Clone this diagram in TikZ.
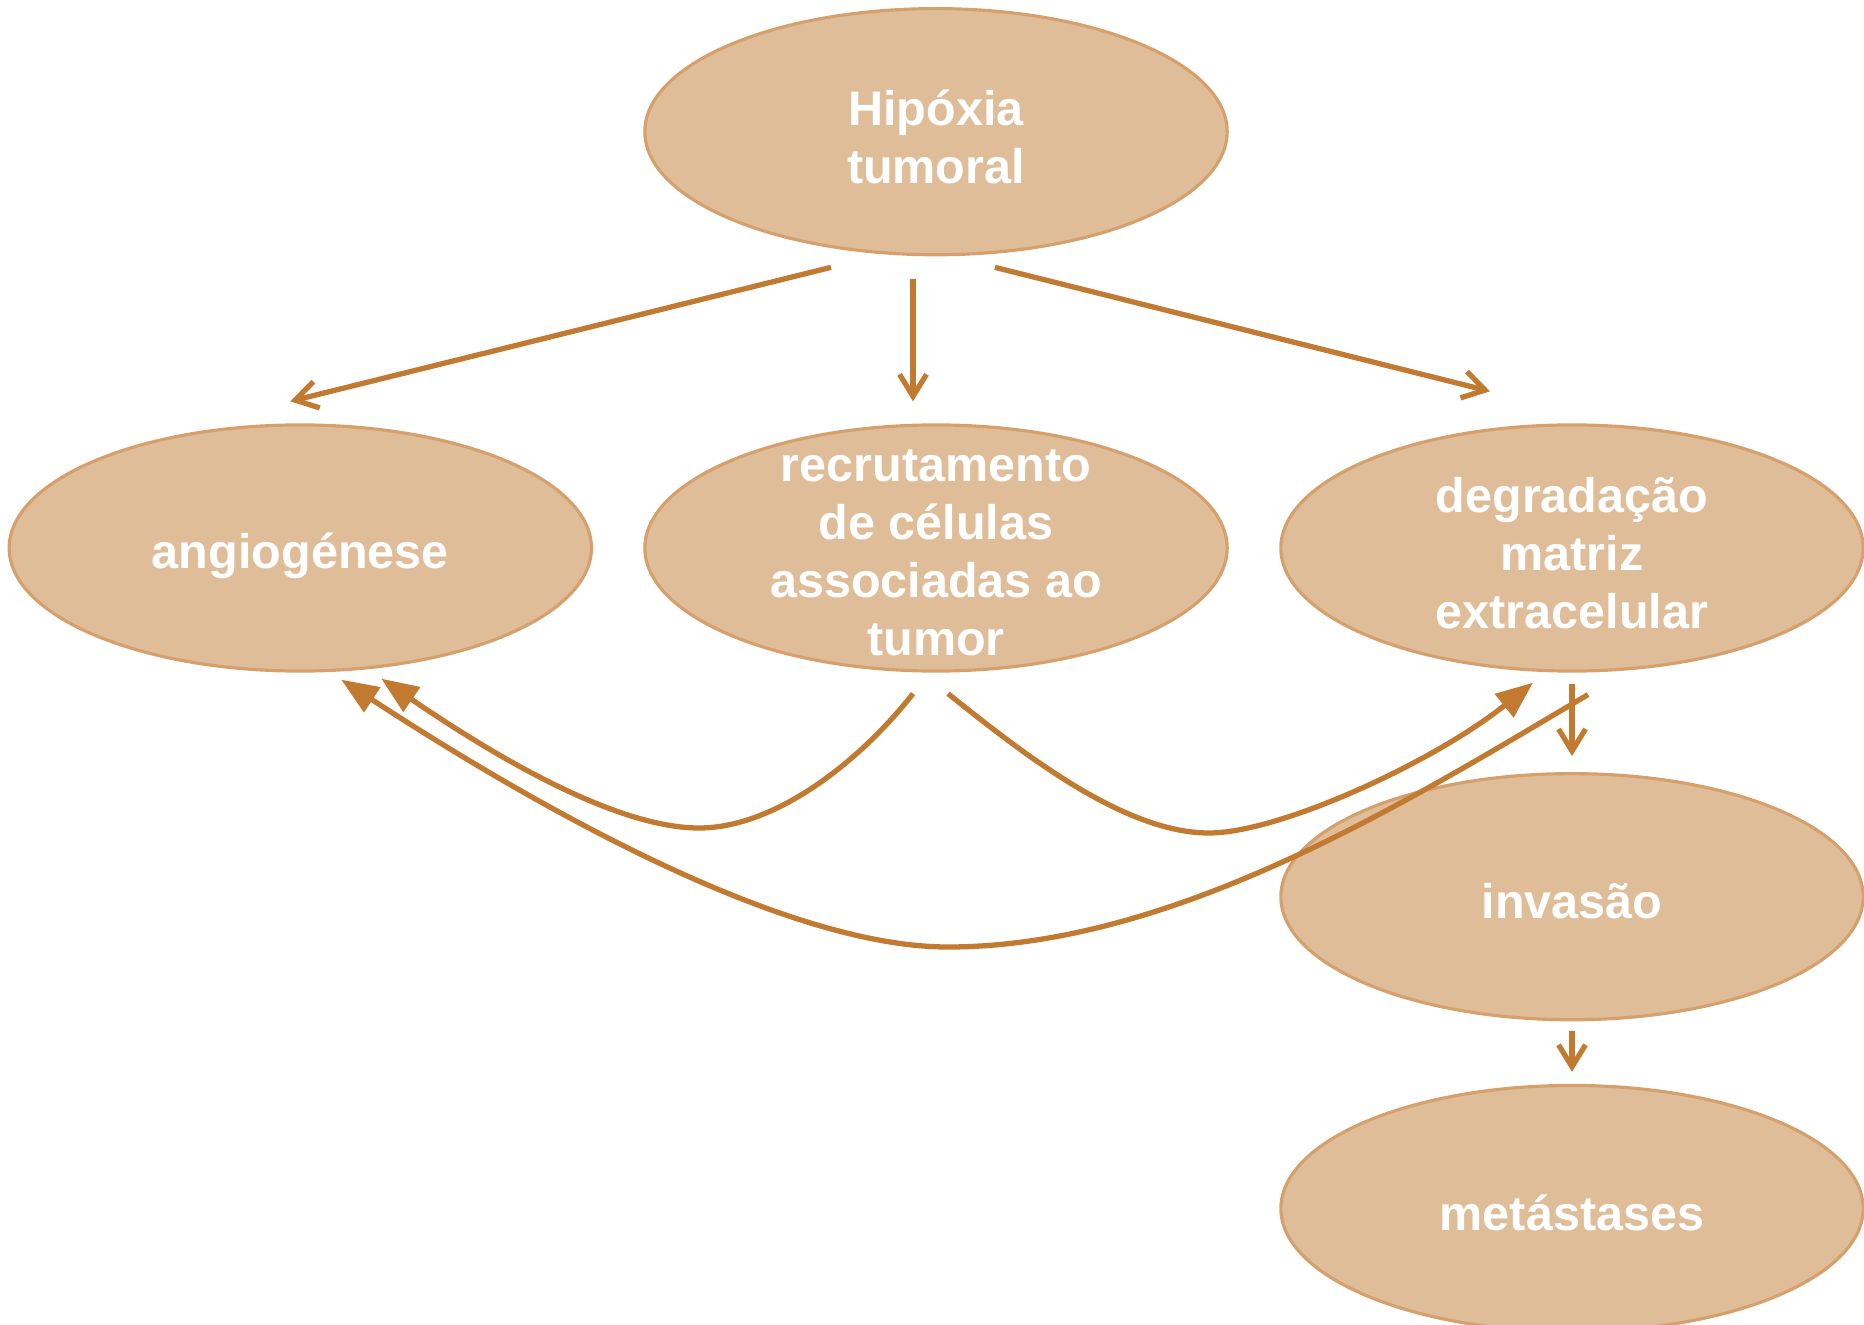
\documentclass[tikz,border=0pt]{standalone}
\usepackage{fontspec}
\setmainfont{Liberation Sans}
\usetikzlibrary{shapes.geometric,arrows.meta,calc}
\definecolor{fillc}{HTML}{DFBD99}
\definecolor{edgec}{HTML}{D6A06C}
\definecolor{arrc}{HTML}{C27A30}
\begin{document}
\begin{tikzpicture}[x=0.01cm,y=-0.01cm,
  blob/.style={ellipse,draw=edgec,line width=0.9pt,fill=fillc,minimum width=5.82cm,minimum height=2.46cm,inner sep=0pt},
  lbl/.style={text=white,font=\bfseries\fontsize{13.8}{16.5}\selectfont,align=center,inner sep=0pt,yshift=-1.4pt},
  link/.style={draw=arrc,line width=1.5pt,-{Straight Barb[length=0.22cm,width=0.27cm]}},
  curl/.style={draw=arrc,line width=1.5pt,-{Triangle[length=0.37cm,width=0.29cm]}}]
\path[use as bounding box,clip] (0,0) rectangle (1864,1325);

\node[blob] (H) at (936,131.7) {};
\node[blob] (A) at (300.3,548) {};
\node[blob] (R) at (936,548) {};
\node[blob] (D) at (1572,548) {};
\node[blob] (I) at (1572,896.7) {};
\node[blob] (M) at (1572,1208.5) {};

\node[lbl] (Ht) at (H) {Hipóxia\\tumoral};
\node[lbl,yshift=-0.8pt] (At) at (A) {angiogénese};
\node[lbl] (Rt) at (R) {recrutamento\\de células\\associadas ao\\tumor};
\node[lbl] (Dt) at (D) {degradação\\matriz\\extracelular};
\node[lbl] (It) at (I) {invasão};
\node[lbl] (Mt) at (M) {metástases};

% straight arrows
\draw[link] ([shift={(-105,11)}]H.south) -- ([shift={(-10,-22)}]A.north);
\draw[link] ([shift={(-23,23)}]H.south) -- ([shift={(-23,-22)}]R.north);
\draw[link] ([shift={(59,11)}]H.south) -- ([shift={(-82,-32)}]D.north);
\draw[link] ([shift={(0,11)}]D.south) -- ([shift={(0,-16)}]I.north);
\draw[link] ([shift={(0,9.5)}]I.south) -- ([shift={(0,-12)}]M.north);

% curved arrows
\coordinate (b6) at (699,828);
\coordinate (b7) at (1209,833);
\coordinate (b8) at (948,947);
\draw[curl] ([shift={(-23,21)}]R.south) .. controls +(-55,70) and +(75,0) .. (b6)
  .. controls +(-90,0) and +(95,65) .. ([shift={(81,6)}]A.south);
\draw[curl] ([shift={(12,21)}]R.south) .. controls +(75,60) and +(-85,0) .. (b7)
  .. controls +(70,0) and +(-100,80) .. ([shift={(-39,10)}]D.south);
\draw[curl] ([shift={(16,22)}]D.south) .. controls +(-170,100) and +(230,0) .. (b8)
  .. controls +(-150,0) and +(230,150) .. ([shift={(41,7)}]A.south);
\end{tikzpicture}
\end{document}
